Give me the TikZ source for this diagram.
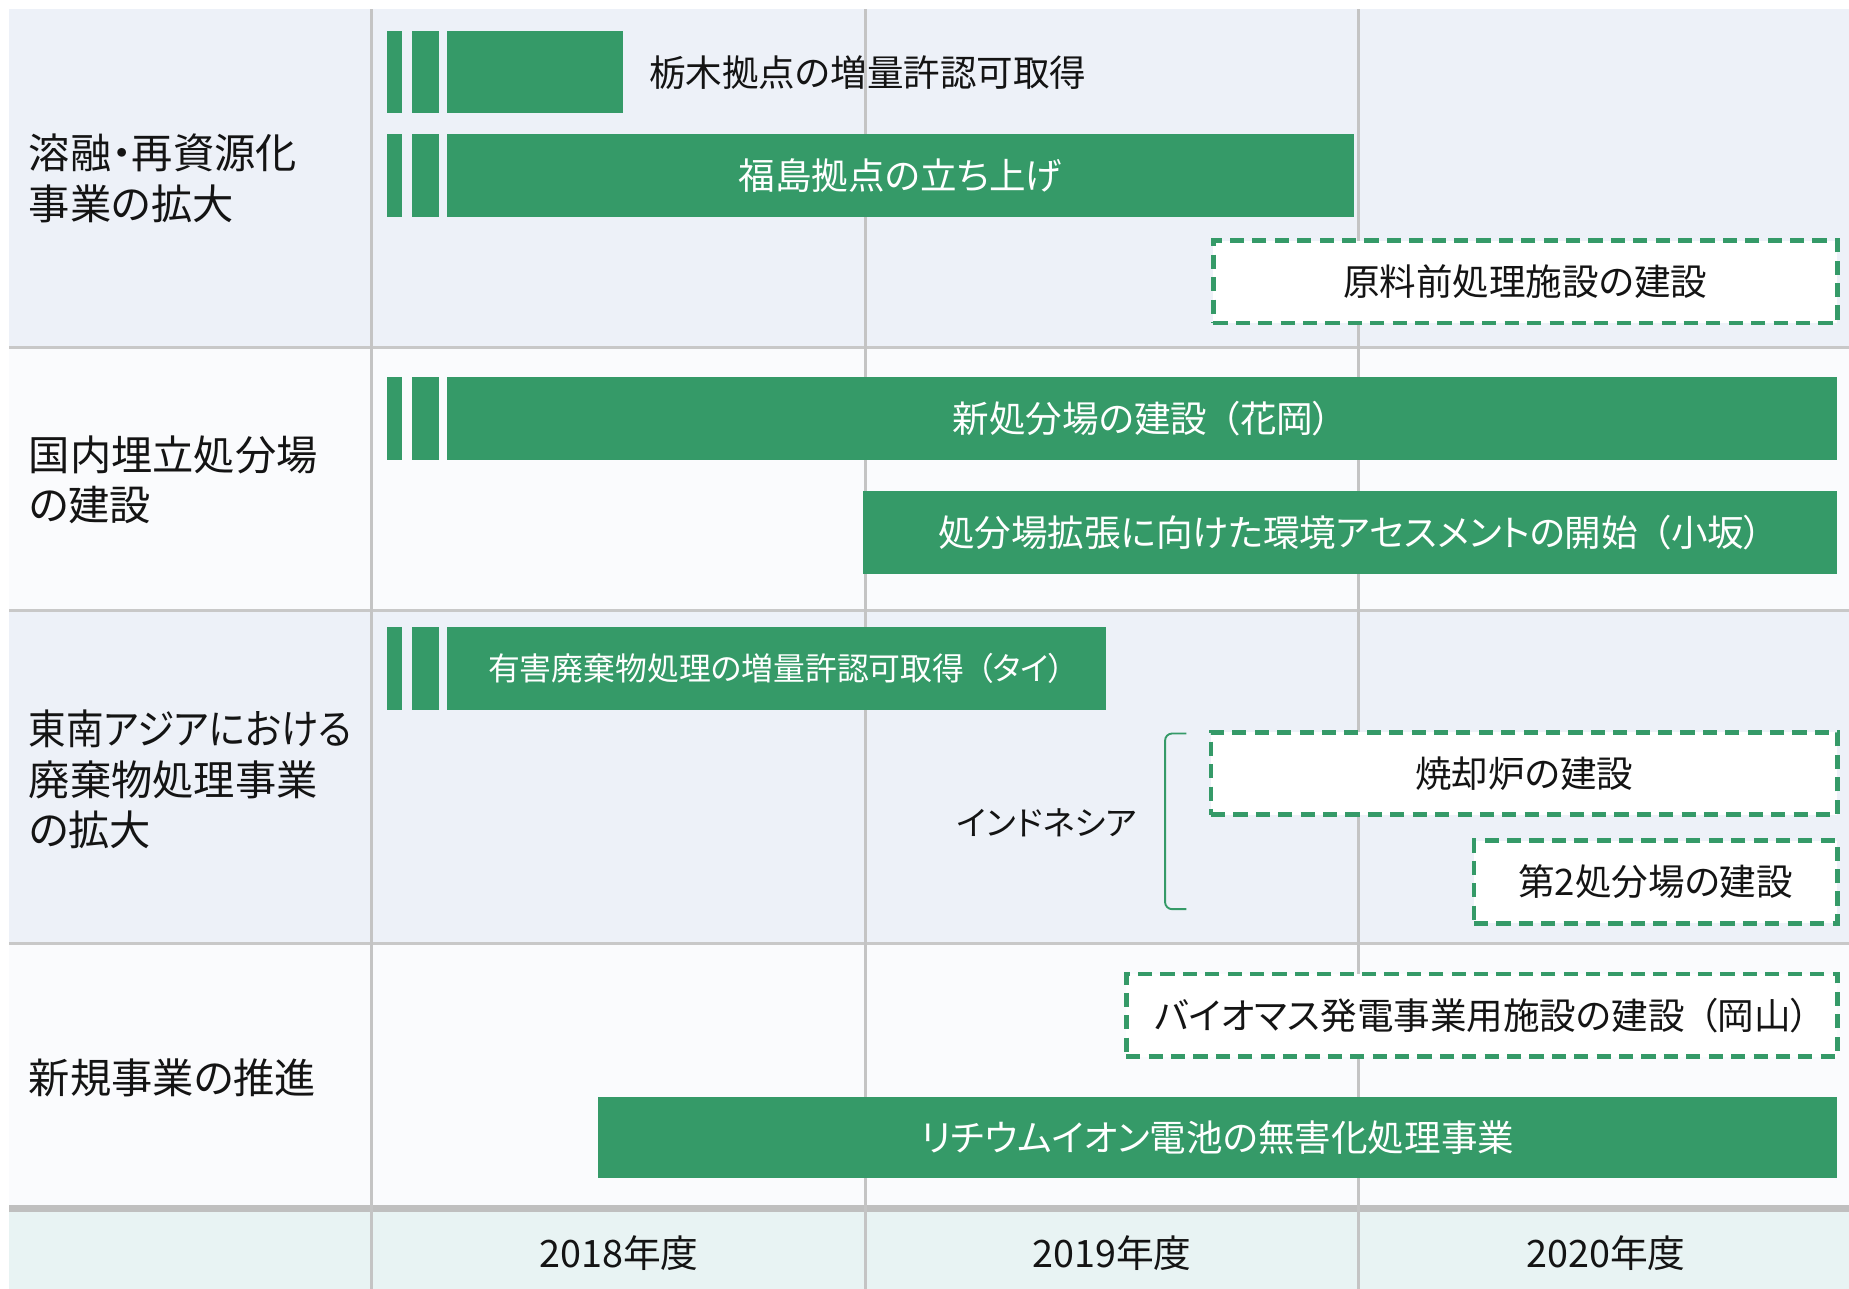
\documentclass[tikz,border=0pt]{standalone}
\usepackage{fontspec}
\setmainfont{Noto Sans CJK JP}[RawFeature=+palt]
\definecolor{gbar}{RGB}{53,154,104}
\definecolor{bandA}{RGB}{237,241,248}
\definecolor{bandB}{RGB}{250,251,253}
\definecolor{bandC}{RGB}{232,243,243}
\definecolor{sepgray}{RGB}{200,200,200}
\definecolor{thickgray}{RGB}{191,191,191}
\definecolor{vgray}{RGB}{196,196,196}
\definecolor{txt}{RGB}{20,20,20}
\newcommand{\lp}{\hspace{0.4em}（}
\begin{document}
\begin{tikzpicture}[x=0.5pt,y=-0.5pt,
  barbox/.style={fill=gbar,draw=none,inner sep=0pt,outer sep=0pt,anchor=north west,text=white,
    font=\fontsize{15.5}{18}\selectfont},
  stub/.style={fill=gbar,draw=none,inner sep=0pt,outer sep=0pt,anchor=north west,minimum height=35pt},
  planbox/.style={fill=white,draw=gbar,line width=2pt,dash pattern=on 6pt off 3.5pt,inner sep=0pt,
    outer sep=0pt,anchor=north west,text=txt,font=\fontsize{15.5}{18}\selectfont},
  catlabel/.style={anchor=west,align=left,text=txt,inner sep=0pt,font=\fontsize{17.5}{21.5}\selectfont},
  yearlabel/.style={text=txt,inner sep=0pt,font=\fontsize{16}{19}\selectfont}
]
\useasboundingbox (0,0) rectangle (1568,1093);
\fill[white] (0,0) rectangle (1568,1093);
% bands
\fill[bandA] (8,8) rectangle (1568,295);
\fill[bandB] (8,295) rectangle (1568,518);
\fill[bandA] (8,518) rectangle (1568,800);
\fill[bandB] (8,800) rectangle (1568,1023);
\fill[bandC] (8,1028) rectangle (1568,1093);
\draw[sepgray,line width=1.2pt] (8,295) -- (1568,295);
\draw[sepgray,line width=1.2pt] (8,518) -- (1568,518);
\draw[sepgray,line width=1.2pt] (8,800) -- (1568,800);
\fill[thickgray] (8,1022) rectangle (1568,1028);
\foreach \xx in {315,734,1152} \draw[vgray,line width=1pt] (\xx,8) -- (\xx,1093);

% category labels
\node[catlabel] (c1) at (24,151) {溶融・再資源化\\事業の拡大};
\node[catlabel] (c2) at (24,407) {国内埋立処分場\\の建設};
\node[catlabel] (c3) at (24,661) {\scalebox{0.91}[1]{東南アジアにおける}\\廃棄物処理事業\\の拡大};
\node[catlabel] (c4) at (24,914) {新規事業の推進};

% row 1
\node[stub,minimum width=6.5pt] (s1a) at (328,26) {};
\node[stub,minimum width=11.5pt] (s1b) at (349,26) {};
\node[barbox,minimum width=74.5pt,minimum height=35pt] (b1) at (379,26) {};
\node[anchor=west,text=txt,inner sep=0pt,font=\fontsize{15.5}{18}\selectfont] (t1) at (550,62) {栃木拠点の増量許認可取得};

\node[stub,minimum width=6.5pt] (s2a) at (328,114) {};
\node[stub,minimum width=11.5pt] (s2b) at (349,114) {};
\node[barbox,minimum width=384.5pt,minimum height=35pt] (b2) at (379,114) {福島拠点の立ち上げ};

\node[planbox,minimum width=264.5pt,minimum height=35pt] (p1) at (1029,204) {原料前処理施設の建設};

% row 2
\node[stub,minimum width=6.5pt] (s3a) at (328,320) {};
\node[stub,minimum width=11.5pt] (s3b) at (349,320) {};
\node[barbox,minimum width=589.5pt,minimum height=35pt] (b3) at (379,320) {新処分場の建設\lp 花岡）};
\node[barbox,minimum width=413pt,minimum height=35.5pt] (b4) at (732,416) {処分場拡張に向けた環境アセスメントの開始\lp 小坂）};

% row 3
\node[stub,minimum width=6.5pt] (s5a) at (328,532) {};
\node[stub,minimum width=11.5pt] (s5b) at (349,532) {};
\node[barbox,minimum width=279.5pt,minimum height=35pt,font=\fontsize{13.5}{16}\selectfont] (b5) at (379,532) {有害廃棄物処理の増量許認可取得\lp タイ）};

\node[text=txt,inner sep=0pt,font=\fontsize{14.2}{17}\selectfont] (indo) at (888,698) {インドネシア};
\coordinate (brt) at (1006,622);
\coordinate (brb) at (1006,771);
\draw[gbar,line width=0.8pt,rounded corners=3pt] (brt) -- (988,622) -- (988,771) -- (brb);

\node[planbox,minimum width=265.5pt,minimum height=35pt] (p2) at (1027,621) {焼却炉の建設};
\node[planbox,minimum width=154pt,minimum height=35pt] (p3) at (1250,713) {第2処分場の建設};

% row 4
\node[planbox,minimum width=301.5pt,minimum height=35pt] (p4) at (955,826) {バイオマス発電事業用施設の建設\lp 岡山）};
\node[barbox,minimum width=525.5pt,minimum height=34.5pt] (b6) at (507,930) {リチウムイオン電池の無害化処理事業};

% years
\node[yearlabel] (y1) at (525,1063) {2018年度};
\node[yearlabel] (y2) at (943,1063) {2019年度};
\node[yearlabel] (y3) at (1362,1063) {2020年度};
\end{tikzpicture}
\end{document}
